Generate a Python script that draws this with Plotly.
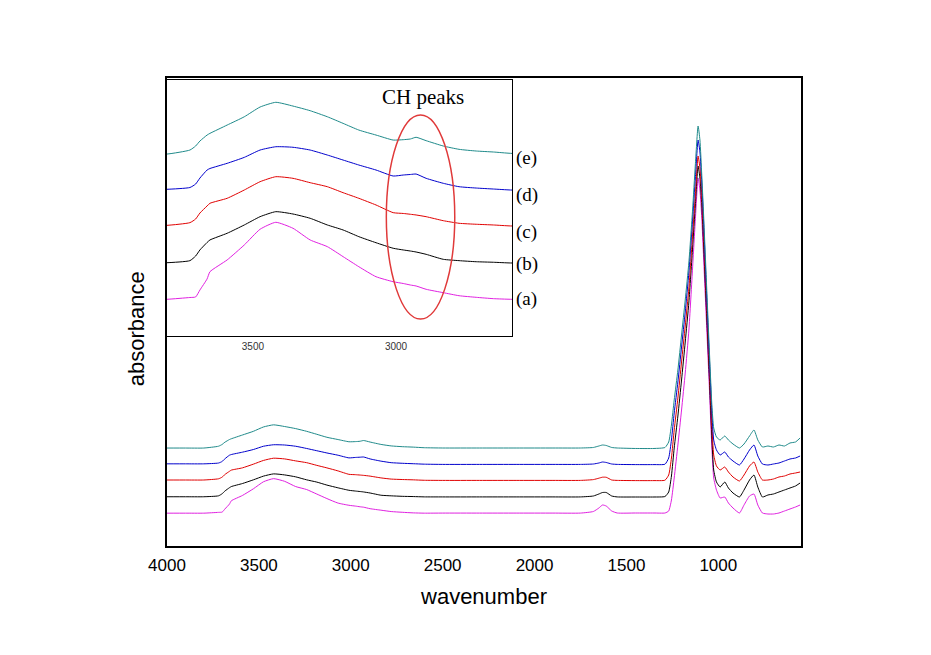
import plotly.graph_objects as go

# wavenumber grid (cm-1)
wavenumber = [4000, 3900, 3800, 3720, 3700, 3685, 3660, 3650, 3590, 3530, 3475, 3420, 3360, 3300,
              3240, 3185, 3130, 3070, 3010, 2975, 2950, 2930, 2895, 2835, 2780, 2720, 2660, 2600,
              2500, 2300, 2100, 1900, 1750,
              1680, 1650, 1630, 1610, 1580, 1550,
              1450, 1350, 1290, 1270, 1255, 1240, 1220, 1200, 1180, 1160, 1140, 1125, 1110, 1100,
              1090, 1080, 1065, 1050, 1035, 1025, 1010,
              990, 965, 945, 920, 885, 860, 830, 806, 785, 760, 730, 700, 670, 640, 610, 580, 555]

abs_e = [0.2799, 0.2799, 0.2799, 0.2844, 0.2889, 0.2945, 0.3012, 0.3031, 0.3124, 0.3217, 0.3326, 0.3379, 0.3337, 0.3285,
         0.3217, 0.3143, 0.3068, 0.3012, 0.2956, 0.2960, 0.2968, 0.2987, 0.2949, 0.2889, 0.2852, 0.2833, 0.2822, 0.2807,
         0.280, 0.280, 0.280, 0.280, 0.280,
         0.2813, 0.285, 0.2875, 0.2863, 0.2813, 0.280,
         0.2788, 0.2788, 0.2813, 0.295, 0.3375, 0.400, 0.475, 0.5625, 0.650, 0.745, 0.875, 0.9875, 1.085, 1.050,
         0.9625, 0.8625, 0.700, 0.5375, 0.3875, 0.330, 0.3075,
         0.300, 0.310, 0.300, 0.290, 0.280, 0.290, 0.310, 0.325, 0.300, 0.2825, 0.285, 0.2825, 0.2875, 0.285, 0.2925, 0.295, 0.305]

abs_d = [0.2404, 0.2404, 0.2404, 0.2424, 0.2463, 0.2530, 0.2620, 0.2637, 0.2695, 0.2762, 0.2844, 0.2881, 0.2875, 0.2844,
         0.2788, 0.2732, 0.2676, 0.2620, 0.2553, 0.2564, 0.2570, 0.2575, 0.2527, 0.2471, 0.2433, 0.2418, 0.2407, 0.2396,
         0.239, 0.239, 0.239, 0.239, 0.239,
         0.2400, 0.2425, 0.245, 0.2438, 0.2400, 0.239,
         0.2385, 0.2385, 0.2395, 0.255, 0.300, 0.3675, 0.445, 0.5325, 0.620, 0.720, 0.850, 0.955, 1.050, 1.020,
         0.945, 0.845, 0.680, 0.520, 0.370, 0.300, 0.275,
         0.2625, 0.270, 0.2575, 0.2475, 0.2375, 0.2525, 0.275, 0.2875, 0.260, 0.240, 0.2375, 0.240, 0.2425, 0.2475, 0.2525, 0.255, 0.260]

abs_c = [0.2000, 0.2000, 0.2000, 0.2030, 0.2071, 0.2138, 0.2217, 0.2247, 0.2303, 0.2396, 0.2489, 0.2545, 0.2527, 0.2478,
         0.2433, 0.2366, 0.2303, 0.2228, 0.2142, 0.2133, 0.2124, 0.2116, 0.2097, 0.2052, 0.2023, 0.2012, 0.2004, 0.1993,
         0.199, 0.199, 0.199, 0.199, 0.199,
         0.2010, 0.2045, 0.2070, 0.2068, 0.2000, 0.199,
         0.1985, 0.1985, 0.1995, 0.2125, 0.255, 0.325, 0.405, 0.495, 0.585, 0.680, 0.8125, 0.9125, 1.010, 0.980,
         0.9125, 0.8125, 0.655, 0.495, 0.3375, 0.2625, 0.235,
         0.225, 0.2325, 0.220, 0.2075, 0.1975, 0.2125, 0.235, 0.245, 0.220, 0.200, 0.200, 0.2025, 0.2075, 0.210, 0.215, 0.2175, 0.220]

abs_b = [0.1581, 0.1581, 0.1581, 0.1604, 0.1656, 0.1724, 0.1808, 0.1836, 0.1911, 0.2004, 0.2097, 0.2153, 0.2127, 0.2079,
         0.2004, 0.1948, 0.1873, 0.1805, 0.1743, 0.1724, 0.1712, 0.1701, 0.1675, 0.1619, 0.1604, 0.1592, 0.1586, 0.1578,
         0.1577, 0.1577, 0.1577, 0.1577, 0.1577,
         0.160, 0.165, 0.16875, 0.16875, 0.160, 0.1577,
         0.1575, 0.1575, 0.15875, 0.170, 0.210, 0.280, 0.360, 0.450, 0.545, 0.645, 0.780, 0.8875, 0.985, 0.955,
         0.8875, 0.7875, 0.630, 0.470, 0.305, 0.225, 0.195,
         0.1825, 0.195, 0.180, 0.1675, 0.1575, 0.175, 0.200, 0.2125, 0.1825, 0.1575, 0.1625, 0.165, 0.170, 0.175, 0.180, 0.185, 0.1925]

abs_a = [0.1171, 0.1171, 0.1171, 0.1191, 0.1197, 0.1275, 0.1399, 0.1480, 0.1612, 0.1780, 0.1956, 0.2034, 0.1967, 0.1836,
         0.1761, 0.1649, 0.1536, 0.1424, 0.1368, 0.1348, 0.1331, 0.1320, 0.1283, 0.1245, 0.1211, 0.1193, 0.1178, 0.1171,
         0.1173, 0.1173, 0.1173, 0.1173, 0.1173,
         0.12125, 0.130, 0.1375, 0.135, 0.1225, 0.1175,
         0.1175, 0.1175, 0.1175, 0.1225, 0.150, 0.205, 0.2875, 0.375, 0.4675, 0.575, 0.730, 0.850, 0.955, 0.925,
         0.855, 0.755, 0.600, 0.445, 0.280, 0.205, 0.175,
         0.155, 0.1575, 0.1425, 0.130, 0.1175, 0.1375, 0.160, 0.165, 0.1375, 0.1175, 0.115, 0.115, 0.1175, 0.1225, 0.1275, 0.1325, 0.1375]

series_labels = ["(a)", "(b)", "(c)", "(d)", "(e)"]
series_values = [abs_a, abs_b, abs_c, abs_d, abs_e]
series_colors = ["#e020e0", "#000000", "#e00000", "#0000cc", "#1f8a8a"]

main_ticks = [4000, 3500, 3000, 2500, 2000, 1500, 1000]
inset_ticks = [3500, 3000]

fig = go.Figure()
for lab, vals, col in zip(series_labels, series_values, series_colors):
    fig.add_trace(go.Scatter(x=wavenumber, y=vals, mode="lines", name=lab,
                             line=dict(color=col, width=1, shape="spline", smoothing=0.5),
                             xaxis="x", yaxis="y", showlegend=False, hoverinfo="skip"))
for lab, vals, col in zip(series_labels, series_values, series_colors):
    fig.add_trace(go.Scatter(x=wavenumber, y=vals, mode="lines", name=lab,
                             line=dict(color=col, width=1, shape="spline", smoothing=0.5),
                             xaxis="x2", yaxis="y2", showlegend=False, hoverinfo="skip"))

fig.update_layout(
    width=923, height=647,
    margin=dict(l=159, r=130, t=70, b=109),
    paper_bgcolor="white", plot_bgcolor="white",
    font=dict(family="Arial, Liberation Sans, sans-serif", color="black"),
    xaxis=dict(domain=[0, 1], range=[4000, 550], tickvals=main_ticks,
               ticktext=[str(t) for t in main_ticks],
               ticks="outside", ticklen=3, tickcolor="rgba(0,0,0,0)",
               tickfont=dict(size=17, family="Arial, Liberation Sans"),
               showline=True, linecolor="black", linewidth=2, mirror=True,
               showgrid=False, zeroline=False,
               title=dict(text="wavenumber", font=dict(size=22, family="Arial, Liberation Sans"), standoff=14)),
    yaxis=dict(domain=[0, 1], range=[0.035, 1.205], showticklabels=False, ticks="",
               showline=True, linecolor="black", linewidth=2, mirror=True,
               showgrid=False, zeroline=False),
    xaxis2=dict(domain=[0, 0.5442], anchor="y2", range=[3800, 2595], tickvals=inset_ticks,
                ticks="outside", ticklen=1, tickcolor="rgba(0,0,0,0)",
                tickfont=dict(size=10, color="#333333", family="Arial, Liberation Sans"),
                showline=True, linecolor="black", linewidth=1, mirror=True,
                showgrid=False, zeroline=False),
    yaxis2=dict(domain=[0.4494, 0.9957], anchor="x2", range=[0.0763, 0.3629],
                showticklabels=False, ticks="",
                showline=True, linecolor="black", linewidth=1, mirror=True,
                showgrid=False, zeroline=False),
)

# y-axis title
fig.add_annotation(text="absorbance", xref="paper", yref="paper", x=-0.047, y=0.4637,
                   xanchor="center", yanchor="middle",
                   textangle=-90, showarrow=False,
                   font=dict(size=22, family="Arial, Liberation Sans", color="black"))

# inset annotations
serif = "Times New Roman, Liberation Serif, serif"
fig.add_annotation(text="CH peaks", xref="paper", yref="paper", x=0.4038, y=0.9594,
                   xanchor="center", yanchor="middle",
                   showarrow=False, font=dict(size=21, family=serif, color="black"))
label_y = {"(e)": 0.8291, "(d)": 0.75, "(c)": 0.6709, "(b)": 0.6026, "(a)": 0.5278}
for lab in ["(e)", "(d)", "(c)", "(b)", "(a)"]:
    fig.add_annotation(text=lab, xref="paper", yref="paper", x=0.5678, y=label_y[lab],
                       xanchor="center", yanchor="middle",
                       showarrow=False, font=dict(size=19, family=serif, color="black"))

fig.add_shape(type="circle", xref="x2", yref="y2", x0=3034, x1=2795, y0=0.0950, y1=0.3237,
              line=dict(color="#e03a3a", width=1.5))

fig.write_html("out.html")
